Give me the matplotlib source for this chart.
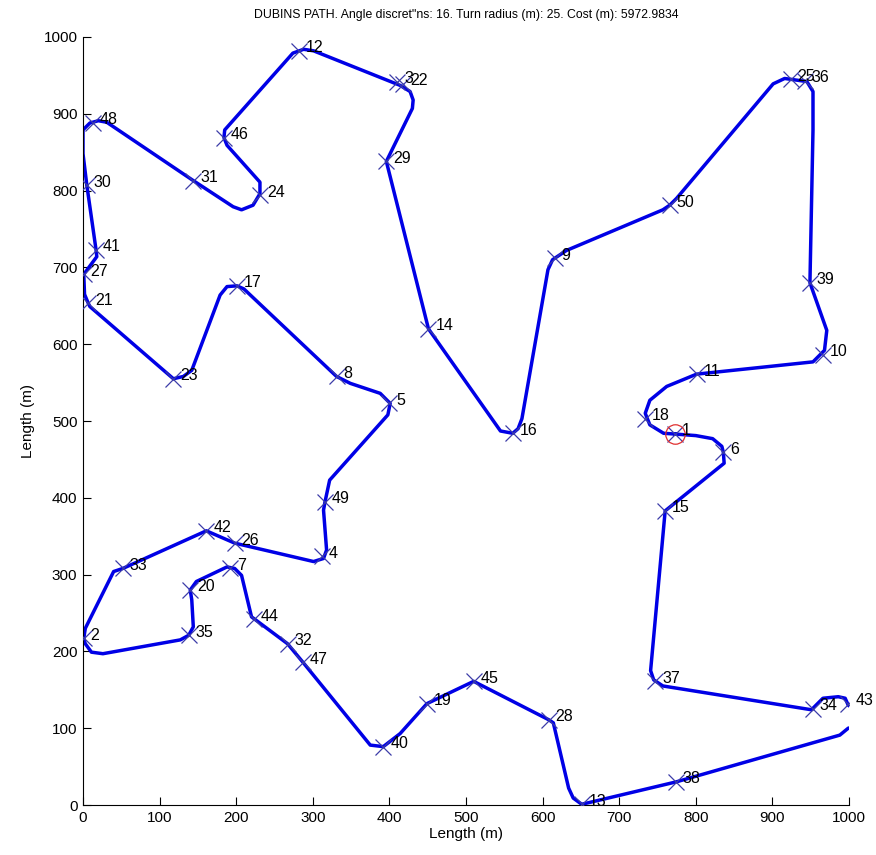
import numpy as np
import matplotlib
matplotlib.use('Agg')
import matplotlib.pyplot as plt

plt.rcParams['font.family'] = ['Liberation Sans', 'DejaVu Sans']

# node positions (m)
node_id = list(range(1, 51))
node_x = [773, 1, 410, 312, 400, 836, 192, 331, 616, 966,
          801, 282, 651, 451, 760, 561, 201, 734, 449, 140,
          7, 418, 118, 231, 924, 198, 1, 608, 396, 5,
          144, 267, 52, 953, 138, 942, 747, 774, 949, 392,
          17, 161, 999, 223, 510, 184, 287, 13, 316, 766]
node_y = [483, 217, 942, 324, 523, 459, 308, 558, 712, 586,
          561, 982, 1, 620, 383, 484, 676, 503, 132, 280,
          653, 939, 555, 794, 945, 341, 691, 111, 838, 807,
          813, 210, 308, 125, 221, 943, 161, 30, 680, 76,
          723, 357, 132, 242, 161, 869, 186, 888, 395, 781]

path_x = [773, 800, 822, 834, 836, 837, 760, 741, 745, 757,
          951, 966, 986, 995, 999, 1008, 1012, 1008, 999, 988,
          774, 660, 651, 640, 634, 614, 608, 510, 449, 414,
          392, 375, 287, 267, 220, 207, 198, 188, 148, 140,
          142, 144, 138, 127, 26, 11, 3, 1, 3, 40,
          52, 161, 198, 301, 314, 318, 314, 316, 322, 398,
          401, 388, 349, 331, 210, 201, 188, 179, 142, 131,
          118, 9, 7, 2, 1, 18, 17, 5, 0, 0,
          9, 20, 31, 144, 196, 207, 222, 231, 231, 188,
          184, 185, 274, 288, 301, 414, 427, 431, 430, 396,
          451, 545, 561, 568, 573, 607, 613, 631, 757, 766,
          775, 901, 916, 945, 953, 953, 949, 971, 968, 953,
          801, 762, 740, 734, 740, 758, 773]
path_y = [483, 481, 477, 467, 459, 445, 383, 175, 163, 155,
          124, 139, 141, 139, 130, 124, 112, 102, 100, 91,
          30, 3, 1, 9, 22, 107, 111, 161, 132, 93,
          76, 78, 186, 210, 245, 299, 308, 310, 291, 280,
          267, 232, 221, 215, 197, 199, 210, 217, 230, 304,
          308, 357, 341, 317, 321, 332, 384, 395, 423, 508,
          523, 536, 549, 558, 672, 676, 675, 664, 566, 558,
          555, 649, 653, 665, 691, 714, 723, 807, 848, 879,
          888, 891, 889, 813, 779, 775, 781, 796, 811, 859,
          869, 879, 979, 984, 982, 937, 929, 918, 907, 838,
          620, 487, 484, 490, 503, 697, 710, 722, 775, 781,
          790, 939, 946, 942, 929, 879, 680, 618, 592, 577,
          561, 545, 527, 510, 495, 484, 483]

start_node = 1
title = 'DUBINS PATH. Angle discret"ns: 16. Turn radius (m): 25. Cost (m): 5972.9834'

fig = plt.figure(figsize=(8.76, 8.55), dpi=100)
ax = fig.add_axes([83/876, 50/855, 766/876, 768/855])

ax.plot(path_x, path_y, color='#0000e6', lw=2.5, solid_joinstyle='round', zorder=2)
ax.plot(node_x, node_y, 'x', color='#3c3ca8', ms=11, mew=0.9, zorder=3)
ax.plot(node_x[start_node-1], node_y[start_node-1], 'o', mfc='none', mec='#e03030',
        ms=14, mew=0.9, zorder=4)
for i, x, y in zip(node_id, node_x, node_y):
    ax.text(x + 9, y + 4, str(i), fontsize=11.5, va='center', ha='left', zorder=5)

ax.set_xlim(0, 1000)
ax.set_ylim(0, 1000)
ax.set_xticks(np.arange(0, 1001, 100))
ax.set_yticks(np.arange(0, 1001, 100))
ax.tick_params(direction='in', length=6, width=0.8, labelsize=11, pad=4)
for s in ['top', 'right']:
    ax.spines[s].set_visible(False)
ax.set_xlabel('Length (m)', fontsize=11, labelpad=2)
ax.set_ylabel('Length (m)', fontsize=11, labelpad=6)
ax.set_title(title, fontsize=8.8, pad=14)

fig.savefig('out.png', dpi=100)
